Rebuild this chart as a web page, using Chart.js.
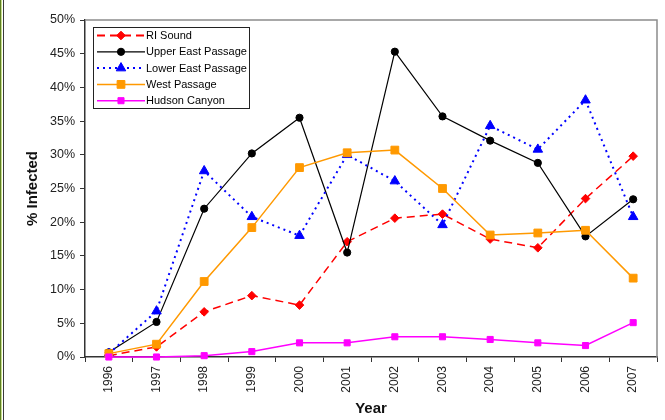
<!DOCTYPE html>
<html>
<head>
<meta charset="utf-8">
<script src="https://cdn.jsdelivr.net/npm/chart.js@4.4.1/dist/chart.umd.min.js"></script>
<style>
  body { margin: 0; background: #fff; }
  #wrap { position: relative; width: 665px; height: 420px; }
  .edge { position: absolute; top: 0; height: 420px; width: 1px; }
  canvas { position: absolute; left: 0; top: 0; }
</style>
</head>
<body>
<div id="wrap">
  <canvas id="chart" width="665" height="420"></canvas>
  <div class="edge" style="left:0;background:#5d7d24"></div>
  <div class="edge" style="left:1px;background:#c8e08c"></div>
  <div class="edge" style="left:3px;background:#3a3a3a"></div>
</div>
<script>
// years on the x axis
const years = ["1996", "1997", "1998", "1999", "2000", "2001", "2002", "2003", "2004", "2005", "2006", "2007"];

// % infected per site
const riSound = [0.2, 1.5, 6.7, 9.1, 7.7, 17.1, 20.6, 21.2, 17.5, 16.2, 23.5, 29.8];
const upperEast = [0.7, 5.2, 22.0, 30.2, 35.5, 15.5, 45.3, 35.7, 32.1, 28.8, 17.9, 23.4];
const lowerEast = [0.5, 6.8, 27.6, 20.8, 18.0, 30.0, 26.1, 19.6, 34.3, 30.8, 38.1, 20.8];
const westPassage = [0.5, 1.9, 11.2, 19.2, 28.1, 30.3, 30.7, 25.0, 18.1, 18.4, 18.8, 11.7];
const hudsonCanyon = [0, 0, 0.2, 0.8, 2.1, 2.1, 3.0, 3.0, 2.6, 2.1, 1.7, 5.1];

const yTicks = [0, 5, 10, 15, 20, 25, 30, 35, 40, 45, 50];

const FONT = "'Liberation Sans', Arial, sans-serif";

// draw top/right frame of plot area in grey
const frame = {
  id: "frame",
  beforeDatasetsDraw(chart) {
    const { ctx, chartArea: a } = chart;
    ctx.save();
    ctx.strokeStyle = "#8c8c8c";
    ctx.lineWidth = 1.5;
    ctx.beginPath();
    ctx.moveTo(a.left, a.top);
    ctx.lineTo(a.right, a.top);
    ctx.lineTo(a.right, a.bottom);
    ctx.stroke();
    ctx.restore();
  },
};

// boxed legend in the top-left of the plot, line + marker samples
const boxLegend = {
  id: "boxLegend",
  afterDatasetsDraw(chart) {
    const { ctx } = chart;
    const x0 = 93, y0 = 27, w = 156, h = 81;
    ctx.save();
    ctx.fillStyle = "#fff";
    ctx.fillRect(x0, y0, w, h);
    ctx.strokeStyle = "#222";
    ctx.lineWidth = 1;
    ctx.strokeRect(x0 + 0.5, y0 + 0.5, w, h);
    chart.data.datasets.forEach((ds, i) => {
      const y = y0 + 8.5 + i * 16.3;
      ctx.strokeStyle = ds.borderColor;
      ctx.lineWidth = ds.legendWidth || ds.borderWidth;
      ctx.setLineDash(ds.borderDash || []);
      ctx.beginPath();
      ctx.moveTo(x0 + 4, y);
      ctx.lineTo(x0 + 52, y);
      ctx.stroke();
      ctx.setLineDash([]);
      ctx.fillStyle = ds.pointBackgroundColor;
      ctx.strokeStyle = ds.pointBorderColor;
      ctx.lineWidth = 1;
      Chart.helpers.drawPoint(ctx, {
        pointStyle: ds.pointStyle,
        radius: ds.pointRadius,
        rotation: 0,
        borderWidth: 1,
      }, x0 + 28, y);
      ctx.fillStyle = "#000";
      ctx.font = "11px " + FONT;
      ctx.textBaseline = "middle";
      ctx.fillText(ds.label, x0 + 53, y + 0.5);
    });
    ctx.restore();
  },
};

function series(label, data, color, opts) {
  return Object.assign({
    label: label,
    data: data,
    borderColor: color,
    backgroundColor: color,
    pointBackgroundColor: color,
    pointBorderColor: color,
    pointBorderWidth: 1,
    pointHoverRadius: 0,
    tension: 0,
    clip: false,
  }, opts);
}

new Chart(document.getElementById("chart"), {
  type: "line",
  data: {
    labels: years,
    datasets: [
      series("RI Sound", riSound, "#ff0000", { borderWidth: 1.5, legendWidth: 2, borderDash: [8, 5], pointStyle: "rectRot", pointRadius: 4.3, order: 5 }),
      series("Upper East Passage", upperEast, "#000000", { borderWidth: 1.2, pointStyle: "circle", pointRadius: 3.6, order: 4 }),
      series("Lower East Passage", lowerEast, "#0000ff", { borderWidth: 2, borderDash: [2, 4], pointStyle: "triangle", pointRadius: 5.5, order: 3 }),
      series("West Passage", westPassage, "#ff9900", { borderWidth: 1.5, pointStyle: "rect", pointRadius: 5.5, order: 2 }),
      series("Hudson Canyon", hudsonCanyon, "#ff00ff", { borderWidth: 1.5, pointStyle: "rect", pointRadius: 4.3, order: 1 }),
    ],
  },
  options: {
    responsive: false,
    animation: false,
    devicePixelRatio: 1,
    layout: { padding: { left: 0, top: 20, right: 8, bottom: 0 } },
    plugins: {
      legend: { display: false },
      tooltip: { enabled: false },
    },
    scales: {
      x: {
        type: "category",
        offset: true,
        grid: { offset: true, drawOnChartArea: false, drawTicks: true, tickLength: 5, color: "#333" },
        border: { display: true, color: "#333", width: 1.5 },
        ticks: {
          autoSkip: false,
          minRotation: 90,
          maxRotation: 90,
          padding: 4,
          color: "#222",
          font: { family: FONT, size: 12 },
        },
        title: {
          display: true,
          text: "Year",
          color: "#111",
          padding: { top: 0, bottom: 2 },
          font: { family: FONT, size: 15, weight: "bold" },
        },
        afterFit(scale) { scale.height = 63; },
      },
      y: {
        min: 0,
        max: 50,
        afterBuildTicks(scale) { scale.ticks = yTicks.map(v => ({ value: v })); },
        grid: { drawOnChartArea: false, drawTicks: true, tickLength: 5, color: "#333" },
        border: { display: true, color: "#333", width: 1.5 },
        ticks: {
          padding: 5,
          color: "#222",
          font: { family: FONT, size: 12.5 },
          callback: v => v + "%",
        },
        title: {
          display: true,
          text: "% Infected",
          color: "#111",
          padding: { top: 24, bottom: 0 },
          font: { family: FONT, size: 15, weight: "bold" },
        },
        afterFit(scale) { scale.width = 85; },
      },
    },
  },
  plugins: [frame, boxLegend],
});
</script>
</body>
</html>
